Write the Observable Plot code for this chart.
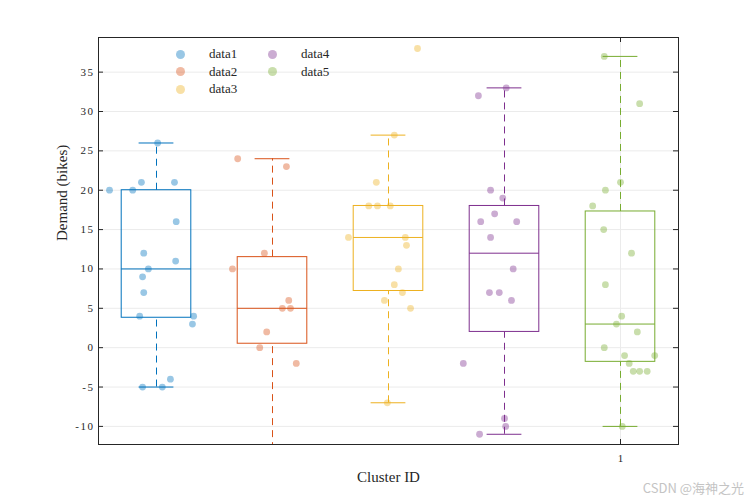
<!DOCTYPE html>
<html><head><meta charset="utf-8">
<script src="https://cdn.jsdelivr.net/npm/d3@7"></script>
<script src="https://cdn.jsdelivr.net/npm/@observablehq/plot@0.6"></script>
<style>
body{margin:0;background:#fff;}
#wrap{position:relative;width:750px;height:500px;font-family:"Liberation Serif","Times New Roman",serif;color:#262626;}
#wrap svg g[aria-label="y-axis tick label"] text{letter-spacing:1.5px;}
.lg-dot{position:absolute;width:9px;height:9px;border-radius:50%;}
.lg-txt{position:absolute;font-size:13px;line-height:13px;}
#wm{position:absolute;right:6px;top:478px;font-family:"Noto Sans CJK SC","Noto Sans",sans-serif;font-size:13px;color:#c4c4c4;}
</style></head><body><div id="wrap"></div>
<script>
const groups = ["data1","data2","data3","data4","data5"];
const positions = [0.2, 0.4, 0.6, 0.8, 1.0];
const colors = ["#0072BD","#D95319","#EDB120","#7E2F8E","#77AC30"];

// box statistics
const q1 = [3.8, 0.5, 7.2, 2, -1.8];
const med = [10, 5, 14, 12, 3];
const q3 = [20, 11.5, 18, 18, 17.3];
const whiskLo = [-5, -16, -7, -11, -10];
const whiskHi = [26, 24, 27, 33, 37];

// scatter values and horizontal jitter (x offset from group position)
const data1 = [26,20,20,21,21,16,12,11,10,9,7,4,4,3,-5,-5,-4];
const jitter1 = [0.002,-0.081,-0.041,-0.026,0.031,0.034,-0.022,0.033,-0.014,-0.024,-0.022,-0.029,0.064,0.062,-0.024,0.010,0.024];
const data2 = [24,23,12,10,6,5,5,2,0,-2,-16];
const jitter2 = [-0.060,0.024,-0.014,-0.069,0.028,0.017,0.031,-0.010,-0.022,0.041,0];
const data3 = [38,27,21,18,18,18,14,14,13,10,8,7,6,5,-7];
const jitter3 = [0.050,0.010,-0.021,-0.034,-0.019,0.003,-0.069,0.029,0.031,0.017,0.010,0.024,-0.007,0.038,-0.002];
const data4 = [33,32,20,19,17,16,16,14,10,7,7,6,-2,-9,-10,-11];
const jitter4 = [0.003,-0.045,-0.024,-0.003,-0.017,-0.041,0.021,-0.024,0.015,-0.026,-0.009,0.012,-0.071,0,0.002,-0.043];
const data5 = [37,31,21,20,18,15,12,8,4,3,2,0,-1,-1,-2,-3,-3,-3,-10];
const jitter5 = [-0.028,0.033,0,-0.026,-0.048,-0.029,0.019,-0.026,0.002,-0.007,0.029,-0.028,0.007,0.059,0.015,0.022,0.033,0.046,0.003];

const yTicks = [-10,-5,0,5,10,15,20,25,30,35];
const xTicks = [1];
const xLabel = "Cluster ID";
const yLabel = "Demand (bikes)";

const allData = [data1,data2,data3,data4,data5];
const allJitter = [jitter1,jitter2,jitter3,jitter4,jitter5];
const stats = groups.map((g,i)=>({group:g,pos:positions[i],q1:q1[i],med:med[i],q3:q3[i],lo:whiskLo[i],hi:whiskHi[i]}));
const points = groups.flatMap((g,i)=>allData[i].map((v,j)=>({group:g,x:positions[i]+allJitter[i][j],y:v})));

const W=750,H=500,mL=98,mR=72,mT=37,mB=56;
const plotW=W-mL-mR, plotH=H-mT-mB;
const bw=0.06, cw=0.03;
const axisColor="#262626";

const chart = Plot.plot({
  width:W,height:H,marginLeft:mL,marginRight:mR,marginTop:mT,marginBottom:mB,
  style:{fontFamily:'"Liberation Serif","Times New Roman",serif',fontSize:"11px",color:axisColor,background:"white"},
  x:{domain:[0.1,1.1]},
  y:{domain:[-12.3,39.4]},
  color:{domain:groups,range:colors},
  marks:[
    Plot.gridY(yTicks,{stroke:"#ebebeb",strokeOpacity:1,strokeWidth:1}),
    Plot.gridX(xTicks,{stroke:"#ebebeb",strokeOpacity:1,strokeWidth:1}),
    Plot.ruleX(stats,{x:"pos",y1:"q3",y2:"hi",stroke:"group",strokeDasharray:"7,5",clip:true}),
    Plot.ruleX(stats,{x:"pos",y1:"lo",y2:"q1",stroke:"group",strokeDasharray:"7,5",clip:true}),
    Plot.ruleY(stats,{y:"hi",x1:d=>d.pos-cw,x2:d=>d.pos+cw,stroke:"group",clip:true}),
    Plot.ruleY(stats,{y:"lo",x1:d=>d.pos-cw,x2:d=>d.pos+cw,stroke:"group",clip:true}),
    Plot.rect(stats,{x1:d=>d.pos-bw,x2:d=>d.pos+bw,y1:"q1",y2:"q3",fill:"none",stroke:"group",strokeWidth:1}),
    Plot.ruleY(stats,{y:"med",x1:d=>d.pos-bw,x2:d=>d.pos+bw,stroke:"group"}),
    Plot.dot(points,{x:"x",y:"y",r:3.4,fill:"group",fillOpacity:0.4,stroke:null,clip:true}),
    Plot.frame({stroke:axisColor,strokeWidth:1}),
    Plot.tickY(yTicks,{y:d=>d,insetRight:plotW-5,stroke:axisColor}),
    Plot.tickY(yTicks,{y:d=>d,insetLeft:plotW-5,stroke:axisColor}),
    Plot.tickX(xTicks,{x:d=>d,insetTop:plotH-5,stroke:axisColor}),
    Plot.tickX(xTicks,{x:d=>d,insetBottom:plotH-5,stroke:axisColor}),
    Plot.axisY(yTicks,{tickSize:0,tickPadding:4,label:null,tickFormat:d=>String(d),fontSize:11}),
    Plot.axisX(xTicks,{tickSize:0,tickPadding:10,label:null,tickFormat:d=>String(d),fontSize:11}),
    Plot.text([yLabel],{frameAnchor:"left",rotate:-90,dx:-36,fontSize:15,fill:axisColor}),
    Plot.text([xLabel],{frameAnchor:"bottom",dy:37,fontSize:15,fill:axisColor})
  ]
});
const wrap=document.getElementById("wrap");
wrap.appendChild(chart);

// legend
groups.forEach((g,i)=>{
  const col=i<3?0:1,row=i%3;
  const mx=180+col*92, my=54+row*17.5;
  const d=document.createElement("div");
  d.className="lg-dot";
  d.style.left=(mx-4.5)+"px";d.style.top=(my-4.5)+"px";
  d.style.background=colors[i];d.style.opacity=0.4;
  wrap.appendChild(d);
  const t=document.createElement("div");
  t.className="lg-txt";t.textContent=g;
  t.style.left=(mx+29)+"px";t.style.top=(my-7)+"px";
  wrap.appendChild(t);
});
const wm=document.createElement("div");wm.id="wm";wm.textContent="CSDN @海神之光";wrap.appendChild(wm);
</script></body></html>
